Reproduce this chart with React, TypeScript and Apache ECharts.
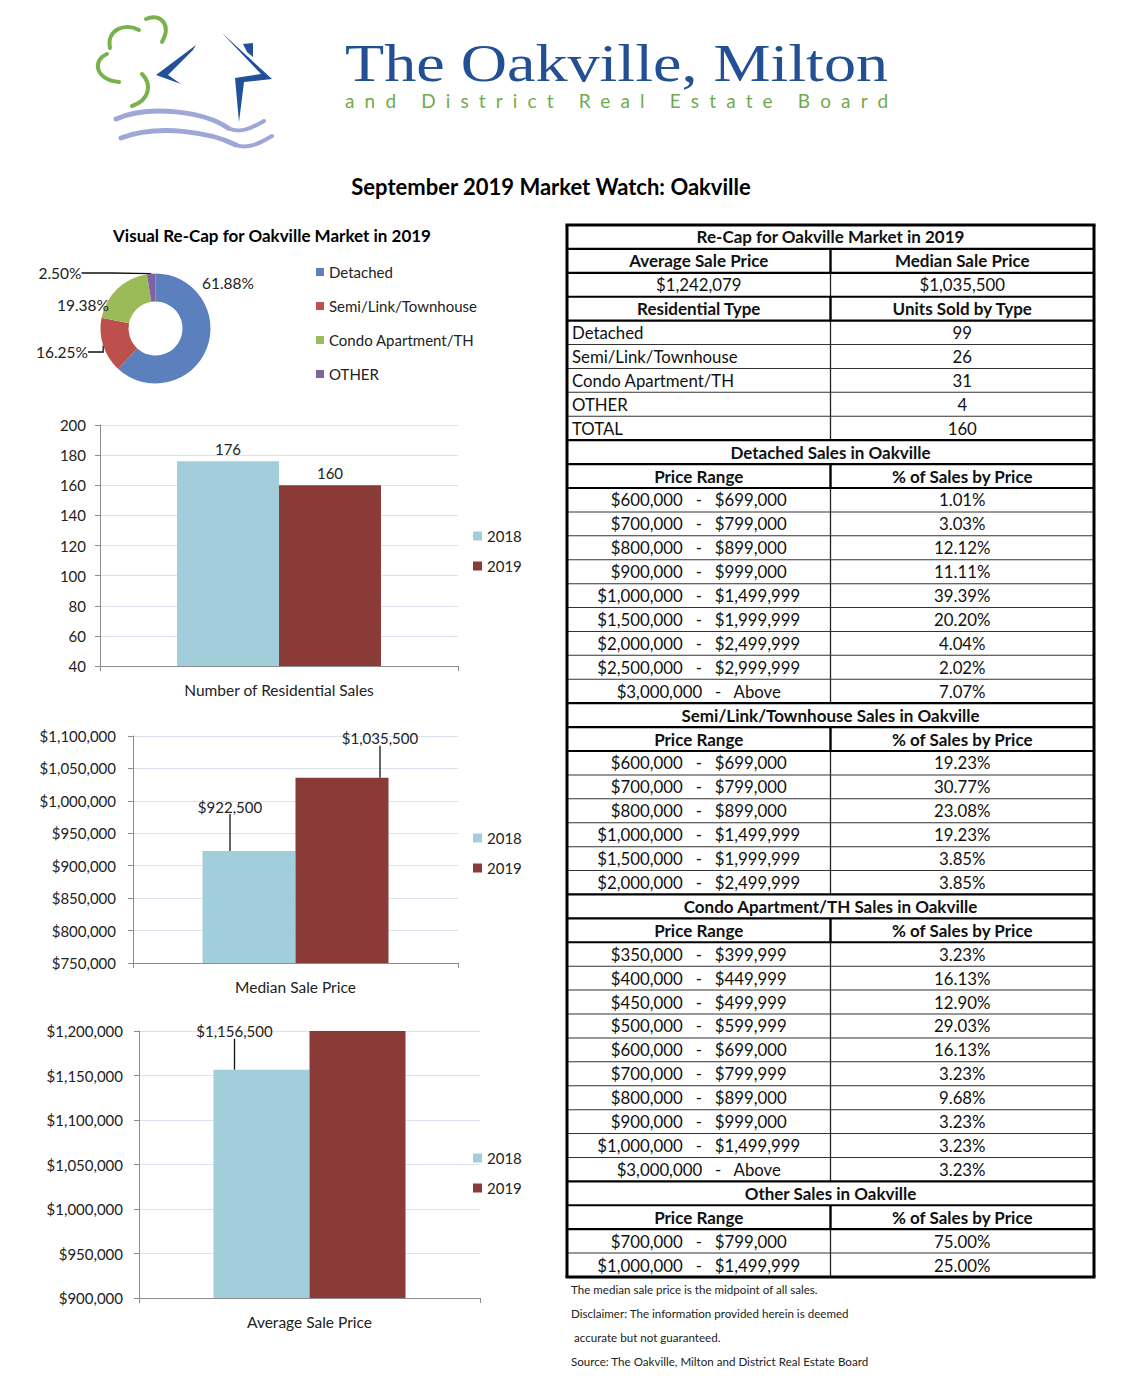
import React, { useEffect, useRef } from "react";
import * as echarts from "echarts";

const FONT = "Lato";

// ---------- header texts ----------
const logoTitle = "The Oakville, Milton";
const logoSubtitle = "and District Real Estate Board";
const pageTitle = "September 2019 Market Watch: Oakville";
const donutTitle = "Visual Re-Cap for Oakville Market in 2019";

// ---------- donut ----------
const residentialTypes = ["Detached", "Semi/Link/Townhouse", "Condo Apartment/TH", "OTHER"];
const unitsSold = [99, 26, 31, 4];
const totalUnits = 160;
const typeColors = ["#5b80bd", "#bd504d", "#9bbb59", "#8064a2"];
const pieLabelAnchors = [
  [228, 283],
  [62, 352],
  [83, 305],
  [60, 273],
];

// ---------- bars ----------
const years = ["2018", "2019"];
const yearColors = ["#a2cddb", "#8a3b38"];
const salesCategory = ["Number of Residential Sales"];
const residentialSales = [176, 160];
const medianCategory = ["Median Sale Price"];
const medianPrices = [922500, 1035500];
const averageCategory = ["Average Sale Price"];
const averagePrices = [1156500, 1242079];
const salesTicks = [40, 200, 20];
const medianTicks = [750000, 1100000, 50000];
const averageTicks = [900000, 1200000, 50000];

// ---------- table ----------
const recapTitle = "Re-Cap for Oakville Market in 2019";
const priceHeaders = ["Average Sale Price", "Median Sale Price"];
const priceValues = ["$1,242,079", "$1,035,500"];
const typeHeaders = ["Residential Type", "Units Sold by Type"];
const rangeHeaders = ["Price Range", "% of Sales by Price"];

const detachedTitle = "Detached Sales in Oakville";
const detachedLow = ["$600,000", "$700,000", "$800,000", "$900,000", "$1,000,000", "$1,500,000", "$2,000,000", "$2,500,000", "$3,000,000"];
const detachedHigh = ["$699,000", "$799,000", "$899,000", "$999,000", "$1,499,999", "$1,999,999", "$2,499,999", "$2,999,999", "Above"];
const detachedPct = ["1.01%", "3.03%", "12.12%", "11.11%", "39.39%", "20.20%", "4.04%", "2.02%", "7.07%"];

const semiTitle = "Semi/Link/Townhouse Sales in Oakville";
const semiLow = ["$600,000", "$700,000", "$800,000", "$1,000,000", "$1,500,000", "$2,000,000"];
const semiHigh = ["$699,000", "$799,000", "$899,000", "$1,499,999", "$1,999,999", "$2,499,999"];
const semiPct = ["19.23%", "30.77%", "23.08%", "19.23%", "3.85%", "3.85%"];

const condoTitle = "Condo Apartment/TH Sales in Oakville";
const condoLow = ["$350,000", "$400,000", "$450,000", "$500,000", "$600,000", "$700,000", "$800,000", "$900,000", "$1,000,000", "$3,000,000"];
const condoHigh = ["$399,999", "$449,999", "$499,999", "$599,999", "$699,000", "$799,999", "$899,000", "$999,000", "$1,499,999", "Above"];
const condoPct = ["3.23%", "16.13%", "12.90%", "29.03%", "16.13%", "3.23%", "9.68%", "3.23%", "3.23%", "3.23%"];

const otherTitle = "Other Sales in Oakville";
const otherLow = ["$700,000", "$1,000,000"];
const otherHigh = ["$799,000", "$1,499,999"];
const otherPct = ["75.00%", "25.00%"];

const footnotes = [
  "The median sale price is the midpoint of all sales.",
  "Disclaimer: The information provided herein is deemed",
  " accurate but not guaranteed.",
  "Source: The Oakville, Milton and District Real Estate Board",
];

const money = (v: number) => "$" + Number(v).toLocaleString("en-US");

function measure(text: string, font: string) {
  const c = document.createElement("canvas").getContext("2d");
  if (!c) return text.length * 20;
  c.font = font;
  return c.measureText(text).width;
}

type Row = { kind: "title" | "header" | "value" | "left"; a: string; b?: string };

function buildRows(): Row[] {
  const rows: Row[] = [];
  rows.push({ kind: "title", a: recapTitle });
  rows.push({ kind: "header", a: priceHeaders[0], b: priceHeaders[1] });
  rows.push({ kind: "value", a: priceValues[0], b: priceValues[1] });
  rows.push({ kind: "header", a: typeHeaders[0], b: typeHeaders[1] });
  residentialTypes.forEach((t, i) => rows.push({ kind: "left", a: t, b: String(unitsSold[i]) }));
  rows.push({ kind: "left", a: "TOTAL", b: String(totalUnits) });
  const sections: [string, string[], string[], string[]][] = [
    [detachedTitle, detachedLow, detachedHigh, detachedPct],
    [semiTitle, semiLow, semiHigh, semiPct],
    [condoTitle, condoLow, condoHigh, condoPct],
    [otherTitle, otherLow, otherHigh, otherPct],
  ];
  sections.forEach(([title, lo, hi, pct]) => {
    rows.push({ kind: "title", a: title });
    rows.push({ kind: "header", a: rangeHeaders[0], b: rangeHeaders[1] });
    lo.forEach((l, i) => rows.push({ kind: "value", a: `${l}   -   ${hi[i]}`, b: pct[i] }));
  });
  return rows;
}

function txt(x: number, y: number, text: string, o: any = {}) {
  const align = o.align || "left";
  return {
    type: "text",
    x,
    y,
    silent: true,
    scaleX: o.scaleX || 1,
    style: {
      text,
      fill: o.fill || "#111",
      fontSize: o.size || 16,
      fontFamily: o.family || FONT,
      fontWeight: o.bold ? "bold" : "normal",
      align,
      textAlign: align,
      verticalAlign: "middle",
      textVerticalAlign: "middle",
    },
  };
}

function hline(x1: number, x2: number, y: number, t: number, color = "#000") {
  return { type: "rect", silent: true, shape: { x: x1, y: y - t / 2, width: x2 - x1, height: t }, style: { fill: color } };
}
function vline(x: number, y1: number, y2: number, t: number, color = "#000") {
  return { type: "rect", silent: true, shape: { x: x - t / 2, y: y1, width: t, height: y2 - y1 }, style: { fill: color } };
}

function buildTable(): any[] {
  const rows = buildRows();
  const L = 567, R = 1094, M = 830.5, T = 225, B = 1277;
  const h = (B - T) / rows.length;
  const els: any[] = [];
  const isHead = (r: Row) => r.kind === "title" || r.kind === "header";
  const DS = 16.8;
  rows.forEach((r, i) => {
    const cy = T + h * (i + 0.5);
    if (r.kind === "title") {
      els.push(txt((L + R) / 2, cy, r.a, { align: "center", bold: true, size: 17 }));
    } else {
      const bold = r.kind === "header";
      const size = bold ? 17 : DS;
      if (r.kind === "left") els.push(txt(L + 5, cy, r.a, { size }));
      else els.push(txt((L + M) / 2, cy, r.a, { align: "center", bold, size }));
      els.push(txt((M + R) / 2, cy, r.b || "", { align: "center", bold, size }));
      els.push(vline(M, T + h * i, T + h * (i + 1), bold ? 2.4 : 1.3, bold ? "#000" : "#222"));
    }
  });
  for (let i = 1; i < rows.length; i++) {
    const y = T + h * i;
    const thick = isHead(rows[i - 1]) || isHead(rows[i]);
    els.push(hline(L, R, y, thick ? 2.2 : 1, thick ? "#000" : "#333"));
  }
  els.push(hline(L - 1.5, R + 1.5, T, 3));
  els.push(hline(L - 1.5, R + 1.5, B, 3));
  els.push(vline(L, T, B, 3));
  els.push(vline(R, T, B, 3));
  footnotes.forEach((f, i) => els.push(txt(571, 1289 + i * 24, f, { size: 11.6, fill: "#222" })));
  return els;
}

function buildLogo(): any[] {
  const green = "#79b14b";
  const blue = "#21519a";
  const wave = "#9ea7d6";
  const curve = (x1: number, y1: number, c1x: number, c1y: number, c2x: number, c2y: number, x2: number, y2: number, color: string, w: number) => ({
    type: "bezierCurve",
    silent: true,
    shape: { x1, y1, cpx1: c1x, cpy1: c1y, cpx2: c2x, cpy2: c2y, x2, y2 },
    style: { stroke: color, lineWidth: w, fill: null, lineCap: "round" },
  });
  const els: any[] = [
    curve(110, 48, 106, 30, 125, 22, 139, 30, green, 4),
    curve(146, 19, 160, 13, 172, 24, 162, 42, green, 4),
    curve(107, 54, 92, 60, 95, 80, 119, 82, green, 4),
    curve(142, 74, 152, 84, 150, 100, 132, 106, green, 4),
    curve(116, 119, 150, 104, 205, 112, 228, 128, wave, 5),
    curve(228, 128, 240, 134, 252, 128, 264, 121, wave, 4),
    curve(121, 138, 158, 124, 210, 132, 236, 145, wave, 5),
    curve(236, 145, 248, 150, 262, 142, 272, 136, wave, 4),
    { type: "polygon", silent: true, shape: { points: [[196, 45], [156, 75], [181, 84], [168, 75], [193, 50]] }, style: { fill: blue } },
    { type: "polygon", silent: true, shape: { points: [[222, 33], [272, 79], [244, 82], [239, 122], [235, 78], [261, 74]] }, style: { fill: blue } },
    { type: "polygon", silent: true, shape: { points: [[243, 44], [253, 43], [253, 57], [247, 52]] }, style: { fill: blue } },
  ];
  const titleW = measure(logoTitle, '52px "Liberation Serif"');
  els.push(txt(345, 64, logoTitle, { size: 52, family: '"Liberation Serif", serif', fill: "#234f93", scaleX: 543 / titleW }));
  els.push(txt(345, 100, logoSubtitle, { size: 19, family: FONT, fill: "#6fab4d" }));
  return els;
}

function barSeries(gridIdx: number, values: number[], width: number, fmt: (v: number) => string, labels: any[]) {
  return years.map((y, j) => {
    const lab = labels[j];
    const s: any = {
      type: "bar",
      name: y,
      xAxisIndex: gridIdx,
      yAxisIndex: gridIdx,
      data: [values[j]],
      barWidth: width,
      barGap: "0%",
      itemStyle: { color: yearColors[j] },
      label: {
        show: !!lab,
        position: "top",
        distance: 5,
        formatter: (p: any) => fmt(p.value),
        fontSize: 15,
        fontFamily: FONT,
        color: "#222",
      },
    };
    if (lab && lab.length) {
      s.labelLayout = { dx: lab[0], dy: lab[1] };
      s.labelLine = { show: true, lineStyle: { color: "#111", width: 1.3 } };
    }
    return s;
  });
}

function axisPair(gridIdx: number, cat: string[], ticks: number[], fmt: (v: number) => string, margin: number) {
  const axisColor = "#8c8c8c";
  return {
    x: {
      gridIndex: gridIdx,
      type: "category",
      data: cat,
      axisLine: { lineStyle: { color: axisColor } },
      axisTick: { show: true, length: 5, lineStyle: { color: axisColor } },
      axisLabel: { fontSize: 15.5, fontFamily: FONT, color: "#222", margin: 16 },
    },
    y: {
      gridIndex: gridIdx,
      type: "value",
      min: ticks[0],
      max: ticks[1],
      interval: ticks[2],
      axisLine: { show: true, lineStyle: { color: axisColor } },
      axisTick: { show: true, length: 5, lineStyle: { color: axisColor } },
      splitLine: { lineStyle: { color: "#d9e2ee" } },
      axisLabel: { fontSize: 15, fontFamily: FONT, color: "#222", margin, formatter: (v: number) => fmt(v) },
    },
  };
}

export default function App() {
  const ref = useRef<HTMLDivElement>(null);
  useEffect(() => {
    if (!ref.current) return;
    const el = ref.current;
    const chart = echarts.init(el, undefined, { renderer: "svg", width: 1140, height: 1380 });
    const plain = (v: number) => String(v);
    const a0 = axisPair(0, salesCategory, salesTicks, plain, 14);
    const a1 = axisPair(1, medianCategory, medianTicks, money, 17);
    const a2 = axisPair(2, averageCategory, averageTicks, money, 16);
    const yearLegend = (center: number) => ({
      data: years,
      orient: "vertical",
      left: 473,
      top: center - 7.5,
      padding: 0,
      icon: "rect",
      itemWidth: 9,
      itemHeight: 9,
      itemGap: 15,
      selectedMode: false,
      textStyle: { fontSize: 15, fontFamily: FONT, color: "#222" },
    });
    const graphics: any[] = [
      ...buildLogo(),
      txt(551, 186, pageTitle, { size: 22, bold: true, fill: "#000", align: "center" }),
      txt(272, 235, donutTitle, { size: 17, bold: true, fill: "#000", align: "center" }),
      ...buildTable(),
    ];
    chart.setOption({
      animation: false,
      backgroundColor: "#ffffff",
      textStyle: { fontFamily: FONT },
      legend: [
        {
          data: residentialTypes,
          orient: "vertical",
          left: 316,
          top: 264.5,
          padding: 0,
          icon: "rect",
          itemWidth: 8,
          itemHeight: 8,
          itemGap: 19,
          selectedMode: false,
          textStyle: { fontSize: 15, fontFamily: FONT, color: "#222" },
        },
        yearLegend(536),
        yearLegend(838),
        yearLegend(1158),
      ],
      grid: [
        { left: 100, top: 425, width: 358, height: 241 },
        { left: 133, top: 736, width: 325, height: 227 },
        { left: 139, top: 1031, width: 341, height: 267 },
      ],
      xAxis: [a0.x, a1.x, a2.x],
      yAxis: [a0.y, a1.y, a2.y],
      series: [
        {
          type: "pie",
          name: "Units",
          center: [155.5, 328.5],
          radius: [27, 55],
          startAngle: 90,
          clockwise: true,
          data: residentialTypes.map((n, i) => ({
            name: n,
            value: unitsSold[i],
            itemStyle: { color: typeColors[i] },
            labelLine: { show: i === 1 || i === 3 },
          })),
          label: {
            show: true,
            position: "outside",
            width: 70,
            overflow: "none",
            fontSize: 15.5,
            fontFamily: FONT,
            color: "#222",
            formatter: (p: any) => ((p.value / totalUnits) * 100).toFixed(2) + "%",
          },
          labelLine: { show: true, lineStyle: { color: "#111", width: 1.3 } },
          labelLayout: (p: any) => {
            const a = pieLabelAnchors[p.dataIndex];
            return { x: a[0], y: a[1], align: "center", verticalAlign: "middle" };
          },
        },
        ...barSeries(0, residentialSales, 102, plain, [[], []]),
        ...barSeries(1, medianPrices, 93, money, [[-19, -32], [38, -27]]),
        ...barSeries(2, averagePrices, 96, money, [[-27, -26], null]),
      ],
      graphic: graphics,
    });
    const spacing = () => {
      el.querySelectorAll("text").forEach((t: any) => {
        if (t.textContent === logoSubtitle) {
          t.removeAttribute("letter-spacing");
          const w = t.getComputedTextLength ? t.getComputedTextLength() : 0;
          if (w > 0) {
            const ls = (543 - w) / (logoSubtitle.length - 1);
            t.setAttribute("letter-spacing", ls.toFixed(2));
          }
        }
      });
    };
    spacing();
    const raf = requestAnimationFrame(spacing);
    return () => {
      cancelAnimationFrame(raf);
      chart.dispose();
    };
  }, []);
  return (
    <div
      ref={ref}
      style={{ position: "absolute", left: 0, top: 0, width: 1140, height: 1380, background: "#fff" }}
    />
  );
}
